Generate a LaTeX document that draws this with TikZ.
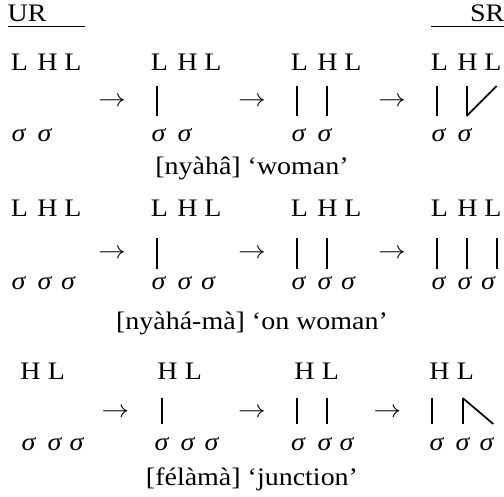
\documentclass[tikz,border=0pt]{standalone}
\usepackage{fontspec}
\usepackage{graphicx}
\setmainfont{Liberation Serif}[FakeStretch=1.11]
\newcommand{\diagsz}{\fontsize{25.2}{30}\selectfont}
\tikzset{
  tone/.style={anchor=base, inner sep=0pt},
  syl/.style={anchor=base, inner sep=0pt, font=\diagsz\itshape},
  arr/.style={anchor=center, inner sep=0pt},
  gloss/.style={anchor=base, inner sep=0pt},
  assoc/.style={line width=1.7pt},
  hrule/.style={line width=1.6pt}
}
\newcommand{\arw}{\scalebox{1.11}[1]{$\rightarrow$}}
\begin{document}
\begin{tikzpicture}[x=1pt,y=-1pt,font=\diagsz]
\useasboundingbox (0,0) rectangle (504,497);
% headers
\node[anchor=base west, inner sep=0pt] (ur) at (7.5,21.7) {UR};
\node[anchor=base east, inner sep=0pt] (sr) at (504.5,21.7) {SR};
\draw[hrule] (8,26.7) -- (85,26.7);
\draw[hrule] (431,26.7) -- (504,26.7);

% ===== Row 1 =====
\foreach \o/\c in {11/1,151/2,291/3,431/4}{
  \node[tone] (r1c\c t1) at (\o+8.5,71) {L};
  \node[tone] (r1c\c t2) at (\o+36.5,71) {H};
  \node[tone] (r1c\c t3) at (\o+62,71) {L};
  \node[syl] (r1c\c s1) at (\o+7.5,141.7) {σ};
  \node[syl] (r1c\c s2) at (\o+33.5,141.7) {σ};
}
\node[arr] (r1a1) at (112,101.7) {\arw};
\node[arr] (r1a2) at (252,101.7) {\arw};
\node[arr] (r1a3) at (392,101.7) {\arw};
\coordinate (r1c2u1) at (157.3,86);  \coordinate (r1c2d1) at (157.3,116);
\coordinate (r1c3u1) at (296.7,86);  \coordinate (r1c3d1) at (296.7,116);
\coordinate (r1c3u2) at (327.3,86);  \coordinate (r1c3d2) at (327.3,116);
\coordinate (r1c4u1) at (436.7,86);  \coordinate (r1c4d1) at (436.7,116);
\coordinate (r1c4u2) at (466.7,86);  \coordinate (r1c4d2) at (466.7,116);
\coordinate (r1c4u3) at (496.7,86);
\draw[assoc] (r1c2u1) -- (r1c2d1);
\draw[assoc] (r1c3u1) -- (r1c3d1);
\draw[assoc] (r1c3u2) -- (r1c3d2);
\draw[assoc] (r1c4u1) -- (r1c4d1);
\draw[assoc] (r1c4u2) -- (r1c4d2);
\draw[assoc] (r1c4d2) -- (r1c4u3);
\node[gloss] (g1) at (252,175) {[nyàhâ] ‘woman’};

% ===== Row 2 =====
\foreach \o/\c in {11/1,151/2,291/3,431/4}{
  \node[tone] (r2c\c t1) at (\o+8.5,216.7) {L};
  \node[tone] (r2c\c t2) at (\o+36.5,216.7) {H};
  \node[tone] (r2c\c t3) at (\o+62,216.7) {L};
  \node[syl] (r2c\c s1) at (\o+7.5,290) {σ};
  \node[syl] (r2c\c s2) at (\o+33.5,290) {σ};
  \node[syl] (r2c\c s3) at (\o+57,290) {σ};
}
\node[arr] (r2a1) at (112,254.3) {\arw};
\node[arr] (r2a2) at (252,254.3) {\arw};
\node[arr] (r2a3) at (392,254.3) {\arw};
\coordinate (r2c2u1) at (157.3,238.3);  \coordinate (r2c2d1) at (157.3,269.3);
\coordinate (r2c3u1) at (296.7,238.3);  \coordinate (r2c3d1) at (296.7,269.3);
\coordinate (r2c3u2) at (327.3,238.3);  \coordinate (r2c3d2) at (327.3,269.3);
\coordinate (r2c4u1) at (436.7,238.3);  \coordinate (r2c4d1) at (436.7,269.3);
\coordinate (r2c4u2) at (466.7,238.3);  \coordinate (r2c4d2) at (466.7,269.3);
\coordinate (r2c4u3) at (496.7,238.3);  \coordinate (r2c4d3) at (496.7,269.3);
\draw[assoc] (r2c2u1) -- (r2c2d1);
\draw[assoc] (r2c3u1) -- (r2c3d1);
\draw[assoc] (r2c3u2) -- (r2c3d2);
\draw[assoc] (r2c4u1) -- (r2c4d1);
\draw[assoc] (r2c4u2) -- (r2c4d2);
\draw[assoc] (r2c4u3) -- (r2c4d3);
\node[gloss] (g2) at (252,330) {[nyàhá-mà] ‘on woman’};

% ===== Row 3 =====
\foreach \o/\c in {18/1,155/2,292/3,427/4}{
  \node[tone] (r3c\c t1) at (\o+12.5,380) {H};
  \node[tone] (r3c\c t2) at (\o+38.5,380) {L};
}
\foreach \a/\b/\d/\c in {28.5/54.5/76.5/1,161.5/187.5/211.5/2,298/324.5/346.5/3,436.5/462.5/486.5/4}{
  \node[syl] (r3c\c s1) at (\a,450) {σ};
  \node[syl] (r3c\c s2) at (\b,450) {σ};
  \node[syl] (r3c\c s3) at (\d,450) {σ};
}
\node[arr] (r3a1) at (115.5,412.7) {\arw};
\node[arr] (r3a2) at (252,412.7) {\arw};
\node[arr] (r3a3) at (387.5,412.7) {\arw};
\coordinate (r3c2u1) at (162.3,398);  \coordinate (r3c2d1) at (162.3,424);
\coordinate (r3c3u1) at (296.7,398);  \coordinate (r3c3d1) at (296.7,424);
\coordinate (r3c3u2) at (327.3,398);  \coordinate (r3c3d2) at (327.3,424);
\coordinate (r3c4u1) at (432.3,398);  \coordinate (r3c4d1) at (432.3,424);
\coordinate (r3c4u2) at (462.7,398);  \coordinate (r3c4d2) at (462.7,424);
\coordinate (r3c4d3) at (493.3,424);
\draw[assoc] (r3c2u1) -- (r3c2d1);
\draw[assoc] (r3c3u1) -- (r3c3d1);
\draw[assoc] (r3c3u2) -- (r3c3d2);
\draw[assoc] (r3c4u1) -- (r3c4d1);
\draw[assoc] (r3c4u2) -- (r3c4d2);
\draw[assoc] (r3c4u2) -- (r3c4d3);
\node[gloss] (g3) at (252,485) {[félàmà] ‘junction’};
\end{tikzpicture}
\end{document}
